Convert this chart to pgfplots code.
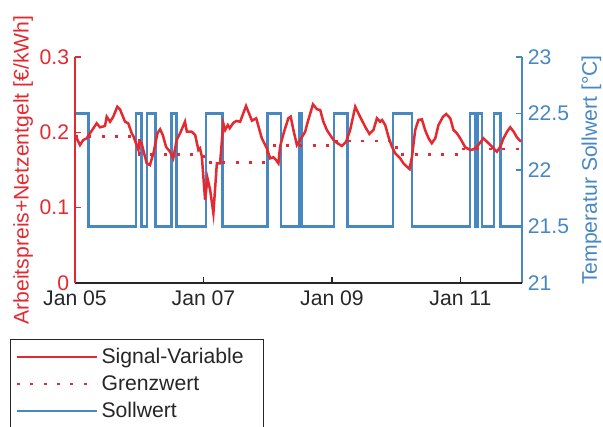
\documentclass[border=0pt]{standalone}
\usepackage{fontspec}
\setmainfont{Liberation Sans}
\usepackage{pgfplots}
\pgfplotsset{compat=1.18}
\definecolor{cRed}{RGB}{228,42,48}
\definecolor{cBlue}{RGB}{72,136,194}
\definecolor{cAx}{RGB}{38,38,38}
\begin{document}
\begin{tikzpicture}[font=\fontsize{12.7}{15}\selectfont]
\pgfplotsset{
  base/.style={
    at={(0pt,0pt)}, anchor=south west,
    scale only axis, width=268.2pt, height=135.6pt,
    xmin=0, xmax=167,
    tick align=inside, major tick length=3.5pt,
    /pgf/number format/assume math mode=true,
    tick label style={font=\fontsize{12.7}{15}\selectfont},
    label style={font=\fontsize{12.7}{15}\selectfont},
  }
}
% right axis (Sollwert)
\begin{axis}[base,
  axis x line=none, axis y line*=right,
  ymin=21, ymax=23, ytick={21,21.5,22,22.5,23},
  yticklabels={21,21.5,22,22.5,23},
  y axis line style={cBlue, line width=0.8pt},
  y tick style={cBlue, line width=0.8pt},
  yticklabel style={text=cBlue, inner ysep=0.5pt},
  ylabel={Temperatur Sollwert [°C]},
  ylabel style={text=cBlue, at={(axis description cs:1.155,0.5)}, anchor=center},
]
\addplot[const plot, cBlue, line width=1.6pt] coordinates {
(0,22.5)(5,21.5)(22.8,22.5)(24.8,21.5)(26.9,22.5)(30,21.5)(36,22.5)(37.9,21.5)
(49,22.5)(55.1,21.5)(71.9,22.5)(76.9,21.5)(83.7,22.5)(84.7,21.5)(96.8,22.5)
(101.9,21.5)(118.8,22.5)(125.9,21.5)(147.6,22.5)(149.6,21.5)(150.4,22.5)
(152,21.5)(156.6,22.5)(158.9,21.5)(167,21.5)};
\end{axis}
% left axis (price)
\begin{axis}[base,
  axis x line*=bottom, axis y line*=left,
  ymin=0, ymax=0.3, ytick={0,0.1,0.2,0.3},
  yticklabels={0,0.1,0.2,0.3},
  xtick={0,48,96,144},
  xticklabels={Jan 05,Jan 07,Jan 09,Jan 11},
  x axis line style={cAx, line width=0.8pt},
  x tick style={cAx, line width=0.8pt},
  xticklabel style={text=cAx, yshift=-1pt},
  y axis line style={cRed, line width=0.8pt},
  y tick style={cRed, line width=0.8pt},
  yticklabel style={text=cRed, inner ysep=0.5pt},
  ylabel={Arbeitspreis+Netzentgelt [€/kWh]},
  ylabel style={text=cRed, at={(axis description cs:-0.116,0.5)}, anchor=center},
  legend cell align=left,
  legend image code/.code={\draw[#1] (0pt,0pt) -- (48pt,0pt);},
  legend style={at={(axis description cs:-0.1454,-0.2478)}, anchor=north west,
    draw=cAx, line width=0.7pt, fill=white, inner xsep=3pt, inner ysep=3pt,
    row sep=1.7pt, font=\fontsize{12.7}{15}\selectfont, text=cAx},
]
\addplot[cRed, line width=1.5pt] coordinates {
(0,0.1965)(1.87,0.1832)(3.1,0.1898)(4.37,0.1921)(5.61,0.1987)(8.11,0.2120)
(9.35,0.2067)(11.2,0.2084)(11.85,0.2208)(13.1,0.2141)(14.3,0.2208)(15.8,0.2340)
(16.8,0.2306)(18.7,0.2141)(19.9,0.2120)(21.2,0.1987)(21.8,0.1951)(23.7,0.1766)
(24.0,0.1876)(24.9,0.1855)(25.5,0.1766)(26.8,0.1589)(28.0,0.1566)(29.3,0.1722)
(30.8,0.1987)(31.8,0.2040)(32.8,0.1965)(34.0,0.1809)(35.5,0.1743)(36.7,0.1655)
(38.0,0.1898)(39.25,0.1987)(41.1,0.2141)(41.8,0.2008)(43.6,0.2008)(44.9,0.1965)
(46.1,0.1766)(46.7,0.1788)(47.4,0.1677)(48.6,0.1102)(49.5,0.1390)(50.5,0.1235)
(51.7,0.0925)(53.0,0.1589)(54.2,0.1589)(55.4,0.2120)(56.1,0.2031)(57.1,0.2097)
(57.8,0.2054)(59.1,0.2124)(60.2,0.2151)(61.7,0.2141)(63.9,0.2350)(66.1,0.2155)
(67.7,0.2186)(69.8,0.1921)(71.7,0.1788)(72.9,0.1655)(74.1,0.1669)(75.1,0.1633)
(76.0,0.1589)(76.6,0.1809)(78.1,0.2008)(79.7,0.2186)(80.6,0.2208)(81.6,0.2031)
(82.9,0.1832)(84.1,0.1898)(86.0,0.2008)(86.8,0.2120)(88.9,0.2372)(90.4,0.2306)
(91.6,0.2297)(92.8,0.2141)(94.1,0.2031)(95.3,0.1965)(96.6,0.1898)(97.8,0.1862)
(99.7,0.1819)(101.3,0.1876)(102.8,0.2031)(104.7,0.2340)(106.5,0.2208)(108.4,0.2075)
(110.0,0.1978)(111.5,0.2031)(112.8,0.2186)(114.0,0.2141)(114.7,0.2164)(115.9,0.2097)
(117.1,0.1942)(118.4,0.1809)(119.6,0.1722)(121.5,0.1655)(122.7,0.1589)(124.0,0.1544)
(125.0,0.1513)(125.9,0.1677)(127.1,0.2031)(128.3,0.2164)(129.6,0.2173)(130.8,0.2031)
(132.1,0.1921)(133.3,0.1855)(134.6,0.1921)(135.8,0.2097)(137.5,0.2208)(138.7,0.2243)
(140.2,0.2186)(141.4,0.2031)(142.7,0.1987)(143.9,0.1921)(145.8,0.1801)(147.7,0.1766)
(148.9,0.1775)(150.2,0.1809)(152.6,0.1921)(153.9,0.1876)(155.8,0.1809)(157.6,0.1743)
(158.9,0.1809)(160.1,0.1921)(161.4,0.2008)(162.6,0.2067)(163.9,0.2008)(165.1,0.1934)
(166.6,0.1876)};
\addlegendentry{Signal-Variable\hspace*{7pt}}
\addplot[cRed, line width=1.6pt, dash pattern=on 1.8pt off 6.2pt] coordinates {
(0,0.1945)(24,0.1945)(24,0.1708)(48,0.1708)(48,0.1602)(72,0.1602)(72,0.1823)
(96,0.1823)(96,0.1885)(120,0.1885)(120,0.1708)(144,0.1708)(144,0.1779)(167,0.1779)};
\addlegendentry{Grenzwert}
\addlegendimage{cBlue, line width=1.6pt}
\addlegendentry{Sollwert}
\end{axis}
\pgfresetboundingbox
\useasboundingbox (-45pt,-85.8pt) rectangle (316.8pt,169.8pt);
\end{tikzpicture}
\end{document}
